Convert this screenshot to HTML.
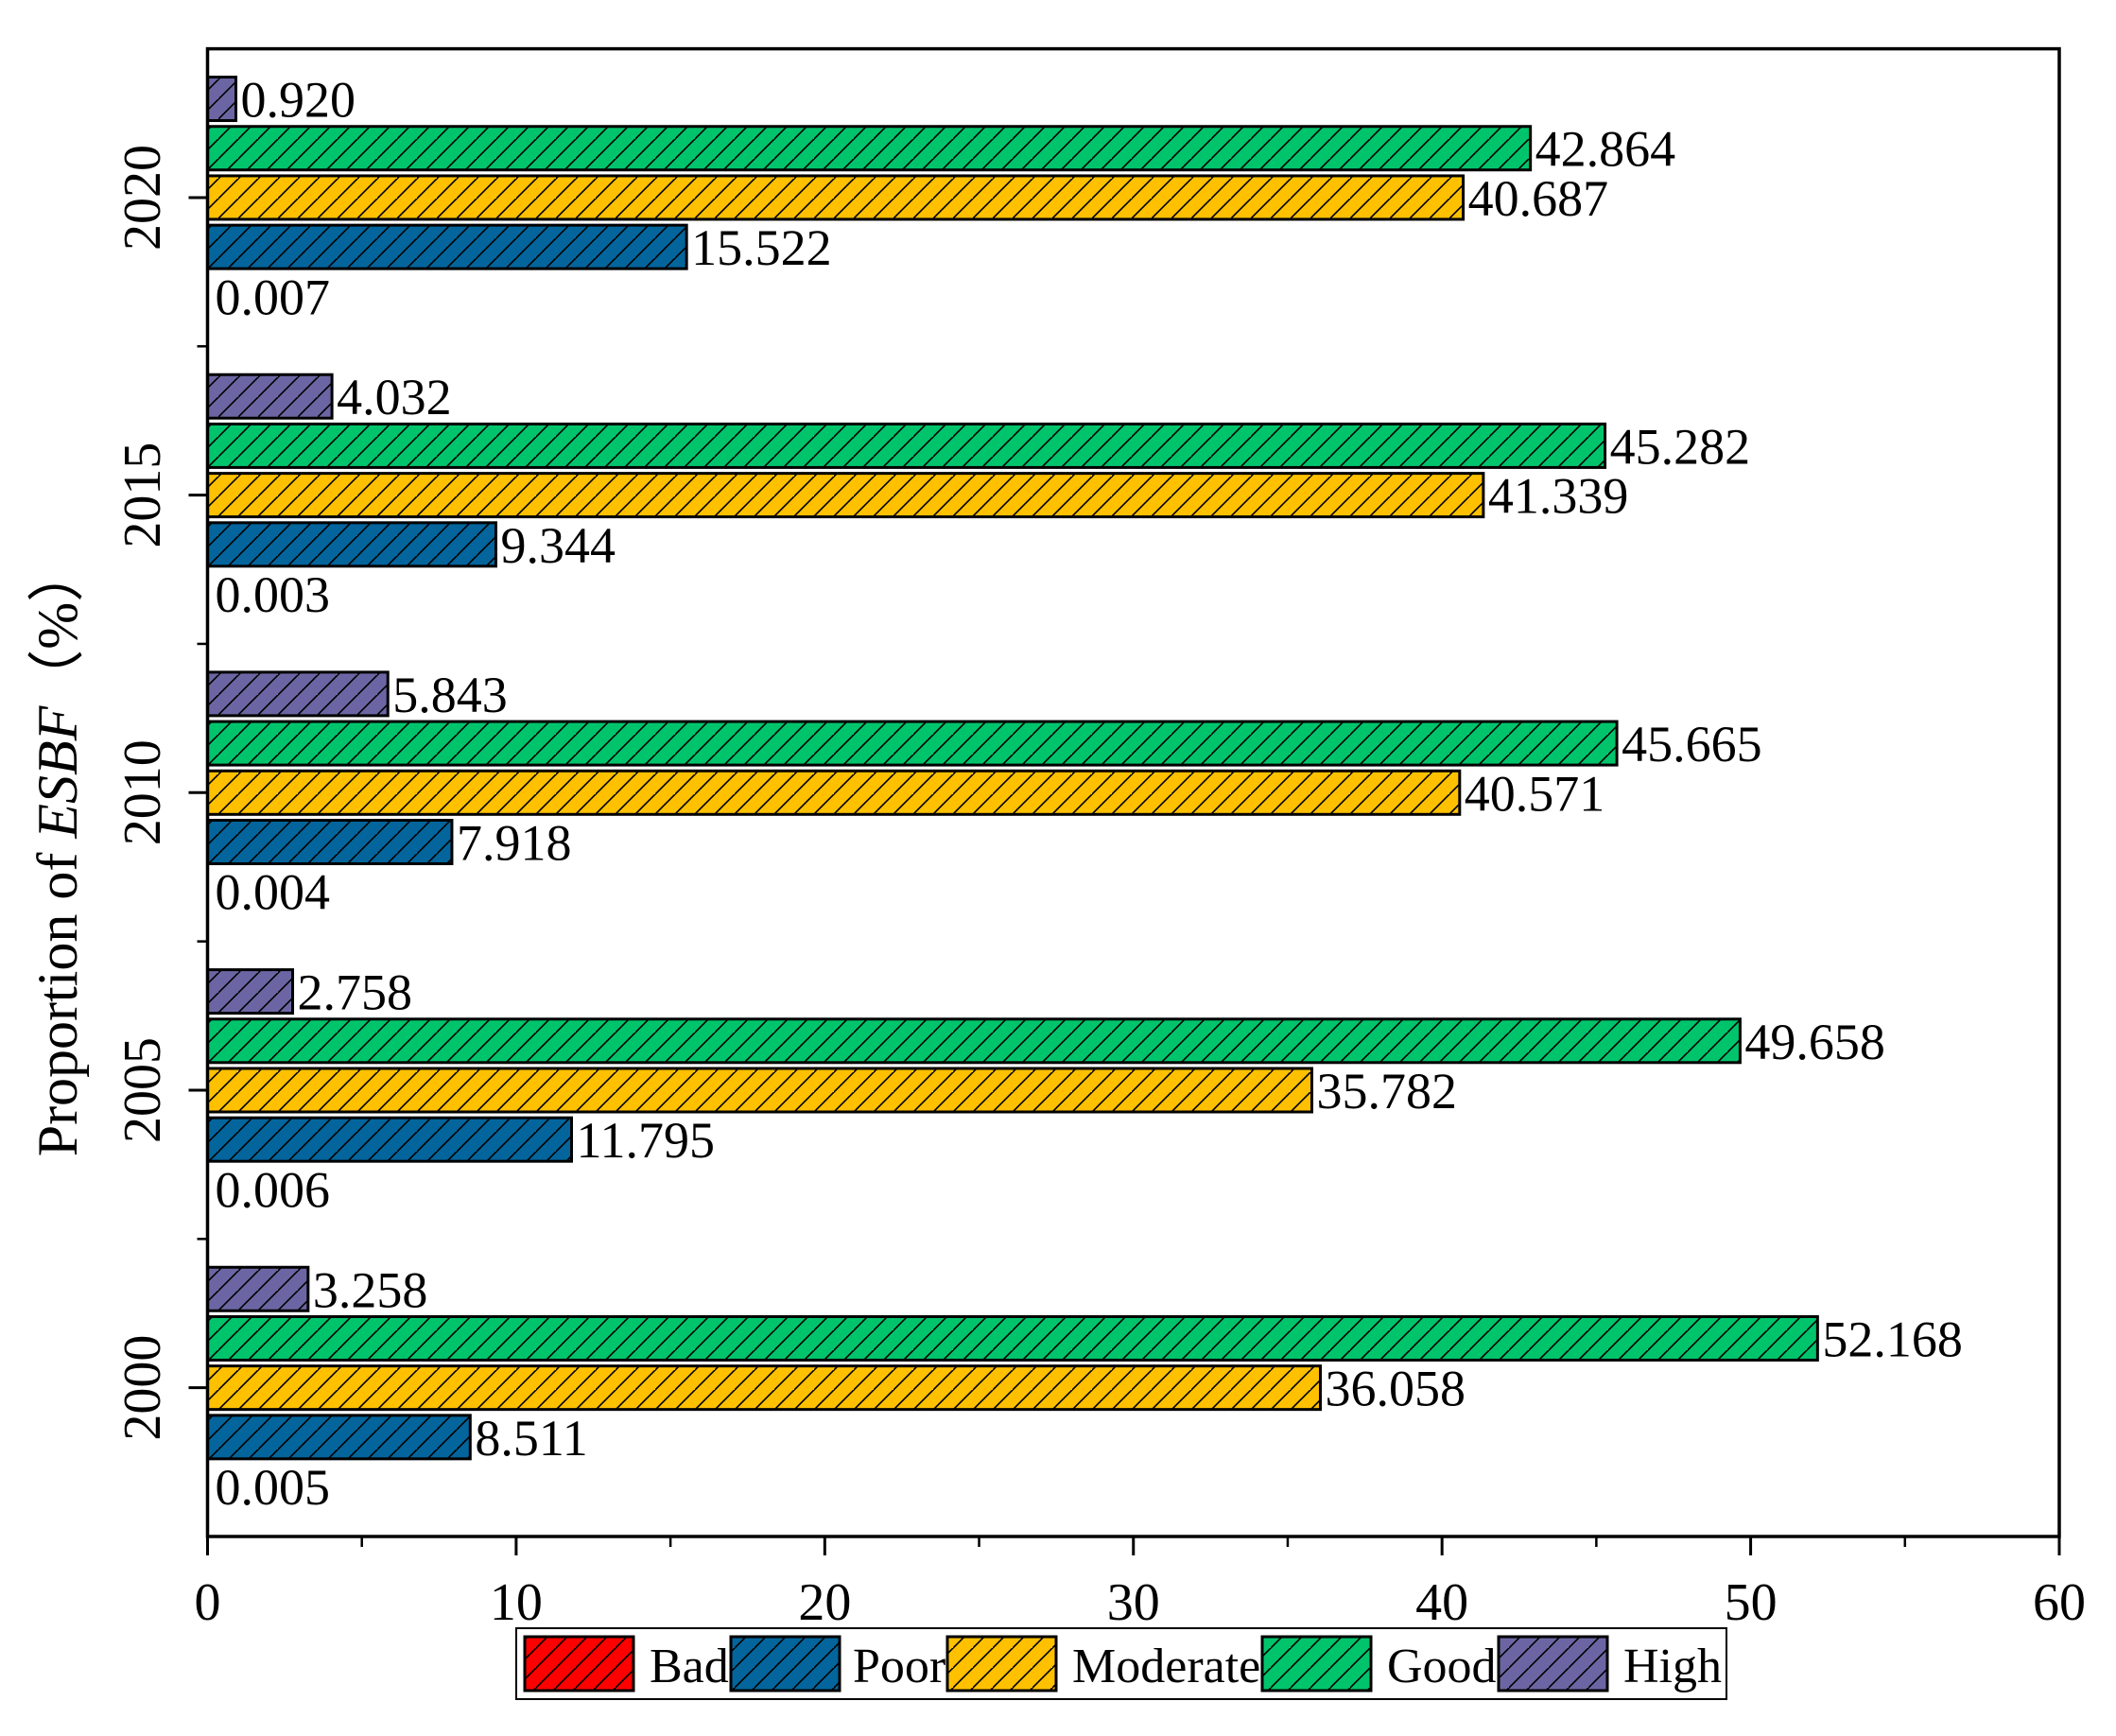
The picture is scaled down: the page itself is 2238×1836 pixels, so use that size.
<!DOCTYPE html>
<html><head><meta charset="utf-8"><style>
html,body{margin:0;padding:0;background:#fff}
svg{display:block;font-family:"Liberation Serif",serif}
</style></head><body>
<svg id="chart" width="2238" height="1836" viewBox="0 0 2238 1836" xmlns="http://www.w3.org/2000/svg">
<defs>
<pattern id="hatch" patternUnits="userSpaceOnUse" width="21" height="21">
<path d="M-2,23 L23,-2 M-12,12 L12,-12 M10,33 L33,10" stroke="#000" stroke-width="1.6"/>
</pattern>
</defs>
<g id="plot"></g>
</svg>
<script>
const years = ['2000','2005','2010','2015','2020'];
const seriesNames = ['Bad','Poor','Moderate','Good','High'];
const badVals = [0.005,0.006,0.004,0.003,0.007];
const poorVals = [8.511,11.795,7.918,9.344,15.522];
const moderateVals = [36.058,35.782,40.571,41.339,40.687];
const goodVals = [52.168,49.658,45.665,45.282,42.864];
const highVals = [3.258,2.758,5.843,4.032,0.920];
const xTicks = [0,10,20,30,40,50,60];
const colors = ['#ff0000','#03659c','#ffc000','#00c46c','#6b66a3'];
const allVals = [badVals,poorVals,moderateVals,goodVals,highVals];

const NS='http://www.w3.org/2000/svg';
const g=document.getElementById('plot');
const L=219.5,R=2178,T=51.6,B=1625;
const xMax=60;
const x=v=>L+(R-L)*v/xMax;
const catH=(B-T)/years.length;
const yc=i=>B-catH*(i+0.5);
const barStep=52.2, barH=46;
function el(tag,attrs,parent){const e=document.createElementNS(NS,tag);for(const k in attrs)e.setAttribute(k,attrs[k]);(parent||g).appendChild(e);return e;}

years.forEach((yr,i)=>{
  allVals.forEach((vals,s)=>{
    const v=vals[i];
    const cy=yc(i)+(2-s)*barStep;
    const w=x(v)-x(0);
    const r=el('rect',{x:x(0),y:cy-barH/2,width:Math.max(w,0.3),height:barH,fill:colors[s]});
    
    
    if(w>2){
      const h=el('rect',{x:x(0),y:cy-barH/2,width:w,height:barH,fill:'url(#hatch)',stroke:'#000','stroke-width':3});
      
      
    }
    let tx,ty;
    if(s===0){tx=x(0)+8;ty=cy+19;}else{tx=x(v)+5;ty=cy+19;}
    const t=el('text',{x:tx,y:ty,'font-size':54,fill:'#000'});
    t.textContent=v.toFixed(3);
    
    
  });
  const lab=el('text',{x:0,y:0,'font-size':56,'text-anchor':'middle',transform:`translate(169,${yc(i)}) rotate(-90)`});
  lab.textContent=yr;
  
  
  el('line',{x1:L-20,x2:L,y1:yc(i),y2:yc(i),stroke:'#000','stroke-width':3});
});
for(let i=1;i<years.length;i++){el('line',{x1:L-11,x2:L,y1:B-catH*i,y2:B-catH*i,stroke:'#000','stroke-width':2.5});}

const fr=el('rect',{x:L,y:T,width:R-L,height:B-T,fill:'none',stroke:'#000','stroke-width':3.5});



xTicks.forEach(v=>{
  el('line',{x1:x(v),x2:x(v),y1:B,y2:B+20,stroke:'#000','stroke-width':3});
  const t=el('text',{x:x(v),y:1713,'font-size':56,'text-anchor':'middle'});
  t.textContent=v;
  
  
  if(v<xMax) el('line',{x1:x(v+5),x2:x(v+5),y1:B,y2:B+11,stroke:'#000','stroke-width':2.5});
});

const yt=el('text',{x:0,y:0,'font-size':60,'text-anchor':'middle',transform:'translate(81,900) rotate(-90)'});
yt.innerHTML='Proportion of <tspan font-style="italic">ESBF</tspan>（%）';



const lg=el('rect',{x:546,y:1722,width:1280,height:75,fill:'#fff',stroke:'#000','stroke-width':2});


const patchX=[555,773,1002,1335,1585];
const textX=[687,902,1134,1467,1717];
seriesNames.forEach((n,s)=>{
  const p=el('rect',{x:patchX[s],y:1731,width:115,height:57,fill:colors[s],stroke:'#000','stroke-width':3});
  
  
  el('rect',{x:patchX[s],y:1731,width:115,height:57,fill:'url(#hatch)'});
  const t=el('text',{x:textX[s],y:1779,'font-size':52});
  t.textContent=n;
  
  
});
</script>
</body></html>
